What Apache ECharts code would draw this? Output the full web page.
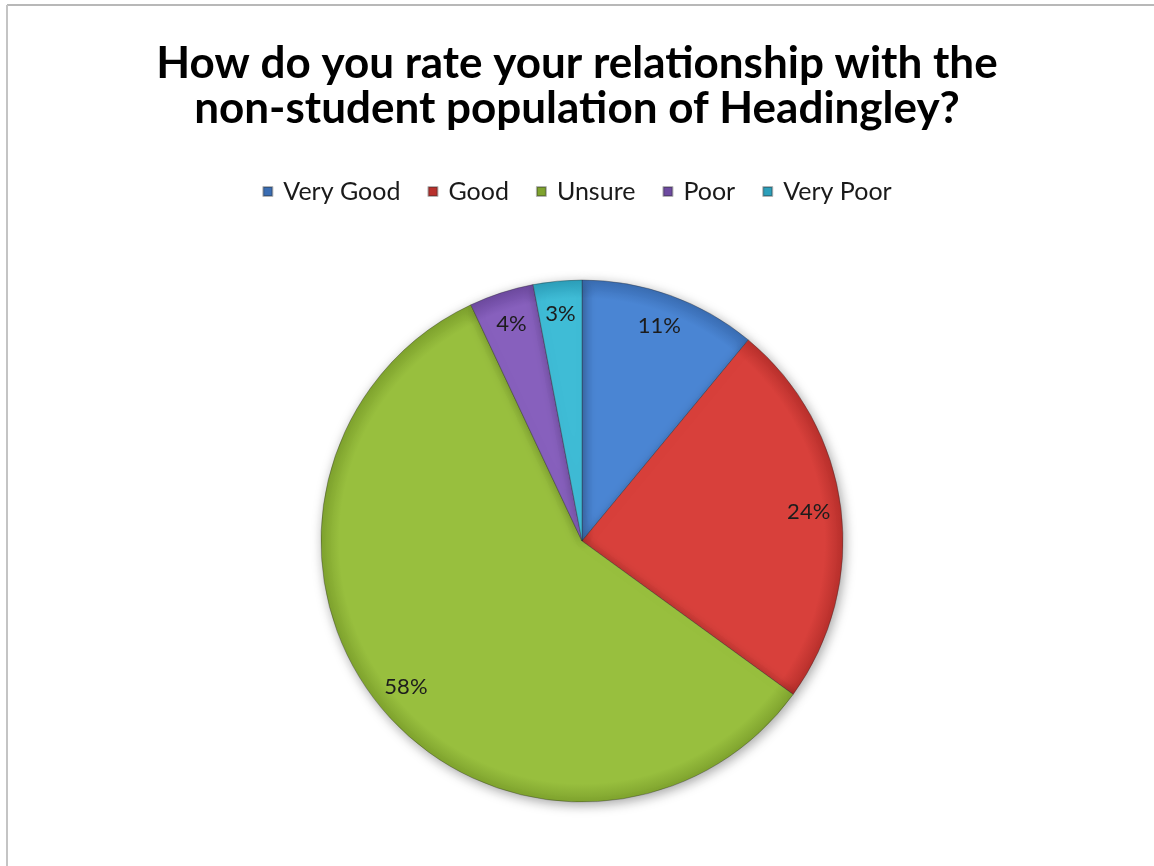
<!DOCTYPE html>
<html>
<head>
<meta charset="utf-8">
<script src="https://cdn.jsdelivr.net/npm/echarts@6/dist/echarts.min.js"></script>
<style>
  html, body { margin: 0; padding: 0; background: #ffffff; }
  #chart { width: 1154px; height: 866px; }
</style>
</head>
<body>
<div id="chart"></div>
<script>
// Survey answers and their share of respondents (%)
const categories = ['Very Good', 'Good', 'Unsure', 'Poor', 'Very Poor'];
const shares = [11, 24, 58, 4, 3];
const sliceColors = ['#4a85d3', '#d8403b', '#98bf3e', '#8760bd', '#3fbcd6'];
const sliceEdges = ['#3a6db3', '#b8302c', '#7fa32e', '#6d4aa0', '#2c9fba'];

const pieCenter = [582, 541];
const pieRadius = 261;

const chart = echarts.init(document.getElementById('chart'));

const pieData = categories.map((name, i) => ({
  name: name,
  value: shares[i],
  itemStyle: {
    color: {
      type: 'radial', global: true,
      x: pieCenter[0], y: pieCenter[1], r: pieRadius,
      colorStops: [
        { offset: 0, color: sliceColors[i] },
        { offset: 0.93, color: sliceColors[i] },
        { offset: 1, color: sliceEdges[i] }
      ]
    }
  }
}));

chart.setOption({
  backgroundColor: '#ffffff',
  animation: false,
  title: {
    text: 'How do you rate your relationship with the\nnon-student population of Headingley?',
    left: 'center',
    top: 36,
    textStyle: {
      fontFamily: 'Lato',
      fontWeight: 'bold',
      fontSize: 44,
      lineHeight: 45,
      color: '#000000'
    }
  },
  legend: {
    top: 174,
    left: 'center',
    itemWidth: 9,
    itemHeight: 9,
    itemGap: 27,
    icon: 'rect',
    textStyle: { fontFamily: 'Lato', fontSize: 25, color: '#1a1a1a', padding: [0, 0, 0, 6] },
    data: categories
  },
  graphic: [
    { type: 'line', shape: { x1: 7, y1: 5, x2: 1154, y2: 5 }, style: { stroke: '#b8b8b8', lineWidth: 2 } },
    { type: 'line', shape: { x1: 7, y1: 5, x2: 7, y2: 866 }, style: { stroke: '#c4c4c4', lineWidth: 2 } }
  ],
  series: [
    {
      // filled slices
      type: 'pie',
      center: pieCenter,
      radius: [0, pieRadius],
      startAngle: 90,
      clockwise: true,
      silent: true,
      label: { show: false },
      labelLine: { show: false },
      itemStyle: {
        borderColor: 'rgba(40,40,40,0.35)',
        borderWidth: 1,
        shadowColor: 'rgba(0,0,0,0.35)',
        shadowBlur: 12,
        shadowOffsetX: 2,
        shadowOffsetY: 3
      },
      data: pieData
    },
    {
      // percentage labels set near the rim
      type: 'pie',
      center: pieCenter,
      radius: [190, pieRadius],
      startAngle: 90,
      clockwise: true,
      silent: true,
      itemStyle: { color: 'transparent', borderWidth: 0 },
      label: {
        show: true,
        position: 'inside',
        formatter: '{c}%',
        fontFamily: 'Lato',
        fontSize: 22,
        color: '#1c1c1c'
      },
      labelLine: { show: false },
      data: categories.map((name, i) => ({ name: name, value: shares[i] }))
    }
  ]
});
</script>
</body>
</html>
